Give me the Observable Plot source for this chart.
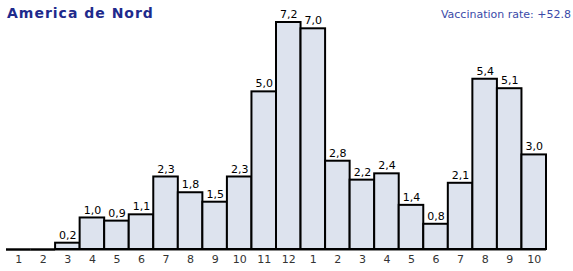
<!DOCTYPE html>
<html><head><meta charset="utf-8">
<script src="https://cdn.jsdelivr.net/npm/d3@7"></script>
<script src="https://cdn.jsdelivr.net/npm/@observablehq/plot@0.6"></script>
<style>
body{margin:0;background:#fff;}
#wrap{position:relative;width:573px;height:271px;font-family:"DejaVu Sans",Verdana,sans-serif;}
#title{position:absolute;left:7px;top:5px;font-size:14px;letter-spacing:1px;font-weight:bold;color:#1e2a8c;}
#sub{position:absolute;right:2px;top:8px;font-size:11px;color:#3b4aa8;}
</style></head>
<body><div id="wrap"><div id="title">America de Nord</div><div id="sub">Vaccination rate: +52.8</div></div>
<script>
const months = ["1","2","3","4","5","6","7","8","9","10","11","12","1","2","3","4","5","6","7","8","9","10"];
const values = [0,0,0.2,1.0,0.9,1.1,2.3,1.8,1.5,2.3,5.0,7.2,7.0,2.8,2.2,2.4,1.4,0.8,2.1,5.4,5.1,3.0];
const data = values.map((v,i)=>({i:String(i), m:months[i], v}));
const fmt = v => v.toFixed(1).replace(".", ",");
const chart = Plot.plot({
  width:573, height:271,
  marginLeft:6, marginRight:27, marginTop:22, marginBottom:22,
  style:{fontFamily:"DejaVu Sans, Verdana, sans-serif", fontSize:"11px", background:"transparent"},
  x:{domain:data.map(d=>d.i), padding:0, round:false, tickFormat:i=>months[+i], tickSize:0, tickPadding:6, label:null},
  y:{domain:[0,7.2], axis:null},
  marks:[
    Plot.ruleY([0],{stroke:"#888",strokeWidth:3}),
    Plot.barY(data,{x:"i", y:"v", fill:"#dde3ee", stroke:"#000", strokeWidth:2}),
    Plot.tickY(data.filter(d=>d.v===0),{x:"i", y:"v", stroke:"#000", strokeWidth:2}),
    Plot.text(data.filter(d=>d.v>0),{x:"i", y:"v", text:d=>fmt(d.v), dy:-8, fill:"#000", fontSize:11, letterSpacing:"0.5px"})
  ]
});
document.getElementById("wrap").prepend(chart);
chart.style.position="absolute"; chart.style.left="0"; chart.style.top="0";
chart.querySelectorAll("[aria-label='x-axis tick label'] text").forEach(t=>t.setAttribute("fill","#333"));
</script></body></html>
